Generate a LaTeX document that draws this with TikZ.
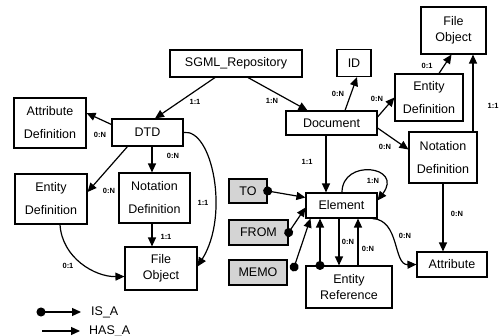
\documentclass[tikz,border=0pt]{standalone}
\usepackage{fontspec}
\setmainfont{Liberation Sans}
\usetikzlibrary{arrows.meta}
\begin{document}
\begin{tikzpicture}[x=1pt,y=-1pt,
  box/.style={draw, line width=1.1pt, inner sep=0pt, align=center,
    font=\fontsize{12.5}{23}\selectfont},
  tight/.style={font=\fontsize{12.5}{16}\selectfont},
  shaded/.style={box, fill=black!17, line width=1.3pt},
  lbl/.style={font=\fontsize{7.5}{8}\selectfont\bfseries, inner sep=0pt},
  legend/.style={font=\fontsize{12.5}{14}\selectfont, inner sep=0pt},
  hasa/.style={line width=1.2pt, -{Triangle[length=9pt,width=8pt]}},
  isa/.style={line width=1.2pt, {Circle[length=9pt]}-{Triangle[length=9pt,width=8pt]}, shorten <=-4.5pt}
]
\useasboundingbox (0,0) rectangle (501,336);

% entity boxes
\node[box, minimum width=132pt, minimum height=27pt] (sgml) at (236,63.5) {SGML\_Repository};
\node[box, minimum width=34pt, minimum height=27pt] (id) at (354,63) {ID};
\node[box, tight, minimum width=65pt, minimum height=47pt] (fileR) at (453.5,30.5) {File\\Object};
\node[box, minimum width=68pt, minimum height=47pt] (entR) at (429,97.5) {Entity\\Definition};
\node[box, minimum width=68pt, minimum height=51pt] (notR) at (443,157.5) {Notation\\Definition};
\node[box, minimum width=70pt, minimum height=25pt] (attr) at (452,264.5) {Attribute};
\node[box, minimum width=91pt, minimum height=24pt] (doc) at (331.5,123) {Document};
\node[box, minimum width=71pt, minimum height=27pt] (dtd) at (147.5,132.5) {DTD};
\node[box, minimum width=72pt, minimum height=50pt] (attdef) at (50,123) {Attribute\\Definition};
\node[box, minimum width=72pt, minimum height=50pt] (entL) at (51,199) {Entity\\Definition};
\node[box, minimum width=71pt, minimum height=50pt] (notL) at (154.5,198) {Notation\\Definition};
\node[box, tight, minimum width=72pt, minimum height=43pt] (fileL) at (161,268.5) {File\\Object};
\node[box, minimum width=71pt, minimum height=25pt] (elem) at (341.5,205.5) {Element};
\node[box, tight, minimum width=86pt, minimum height=42pt] (entref) at (349,287) {Entity\\Reference};
\node[shaded, minimum width=38pt, minimum height=24pt] (to) at (248,191) {TO};
\node[shaded, minimum width=59pt, minimum height=25pt] (from) at (258.5,232.5) {FROM};
\node[shaded, minimum width=58pt, minimum height=25pt] (memo) at (258,272.5) {MEMO};

% HAS_A connectors
\draw[hasa] ([xshift=-21pt]sgml.south) -- ([xshift=7.5pt]dtd.north);
\draw[hasa] ([xshift=12pt]sgml.south) -- ([xshift=-24pt]doc.north);
\draw[hasa] ([xshift=13.5pt]doc.north) -- ([xshift=3pt]id.south);
\draw[hasa] ([yshift=6pt]doc.east) -- ([yshift=0pt]entR.west);
\draw[hasa] ([yshift=-5pt]doc.east) -- ([yshift=8pt]notR.west);
\draw[hasa] ([xshift=10pt]entR.north) -- ([xshift=-2pt]fileR.south);
\draw[hasa] ([xshift=30pt]notR.north) -- ([xshift=19.5pt]fileR.south);
\draw[hasa] (notR.south) -- ([xshift=-9pt]attr.north);
\draw[hasa] ([xshift=-5.5pt]doc.south) -- ([xshift=-15.5pt]elem.north);
\draw[hasa] ([xshift=0.5pt]elem.north) .. controls (342,158) and (404,166) .. ([yshift=5pt]elem.east);
\draw[hasa] ([xshift=-5pt]elem.south east) .. controls (400,220) and (393,265) .. (attr.west);
\draw[hasa] ([xshift=-2.5pt]elem.south) -- ([xshift=-10pt]entref.north);
\draw[hasa] ([xshift=9pt]entref.north) -- ([xshift=16.5pt]elem.south);
\draw[hasa] ([yshift=8pt]dtd.west) -- ([yshift=10pt]attdef.east);
\draw[hasa] ([xshift=-20pt]dtd.south) -- ([yshift=7pt]entL.east);
\draw[hasa] ([xshift=4.5pt]dtd.south) -- ([xshift=-2.5pt]notL.north);
\draw[hasa] (dtd.east) .. controls (212,128) and (230,215) .. ([yshift=2pt]fileL.east);
\draw[hasa] ([xshift=-2.5pt]notL.south) -- ([xshift=-9pt]fileL.north);
\draw[hasa] ([xshift=9pt]entL.south) .. controls (62,258) and (95,277) .. ([yshift=-8pt]fileL.west);

% IS_A connectors
\draw[isa] (to.east) -- ([yshift=8pt]elem.west);
\draw[isa] (from.east) -- ([yshift=-2pt]elem.west);
\draw[isa] ([xshift=6.5pt,yshift=5.5pt]memo.east) -- ([xshift=5pt]elem.south west);
\draw[isa] ([xshift=-29pt]entref.north) -- ([xshift=-21.5pt]elem.south);

% cardinalities
\node[lbl] (c1) at (195,102) {1:1};
\node[lbl] (c2) at (272,101) {1:N};
\node[lbl] (c3) at (338,94) {0:N};
\node[lbl] (c4) at (377,99) {0:N};
\node[lbl] (c5) at (385,147) {0:N};
\node[lbl] (c6) at (427,66) {0:1};
\node[lbl] (c7) at (493,106) {1:1};
\node[lbl] (c8) at (457,214) {0:N};
\node[lbl] (c9) at (307,162) {1:1};
\node[lbl] (c10) at (373,181) {1:N};
\node[lbl] (c11) at (405,236) {0:N};
\node[lbl] (c12) at (348,242) {0:N};
\node[lbl] (c13) at (368,249) {0:N};
\node[lbl] (c14) at (100,135) {0:N};
\node[lbl] (c15) at (109,191) {0:N};
\node[lbl] (c16) at (173,156) {0:N};
\node[lbl] (c17) at (203,203) {1:1};
\node[lbl] (c18) at (166,237) {1:1};
\node[lbl] (c19) at (68,266) {0:1};

% legend
\node[legend, anchor=west] (isatxt) at (91,312) {IS\_A};
\coordinate (isa0) at (41,312);
\draw[isa] (isa0) -- ([xshift=-10pt]isatxt.west);
\node[legend, anchor=west] (hasatxt) at (89,331) {HAS\_A};
\coordinate (hasa0) at (42,331);
\draw[hasa] (hasa0) -- ([xshift=-9pt]hasatxt.west);
\end{tikzpicture}
\end{document}
